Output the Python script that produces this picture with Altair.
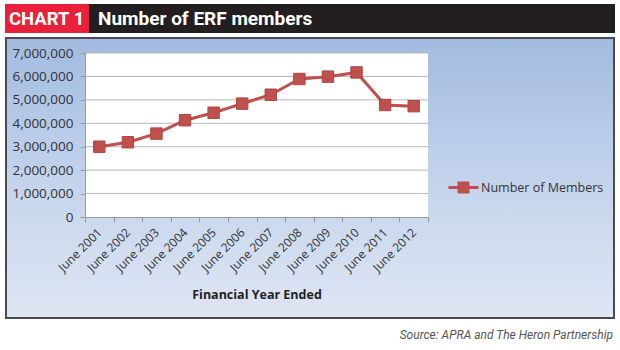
import altair as alt
import pandas as pd

years = ["June 2001", "June 2002", "June 2003", "June 2004", "June 2005", "June 2006",
         "June 2007", "June 2008", "June 2009", "June 2010", "June 2011", "June 2012"]
members = [3000000, 3190000, 3560000, 4130000, 4450000, 4840000,
           5220000, 5890000, 5990000, 6170000, 4780000, 4730000]
series_name = "Number of Members"
y_ticks = [0, 1000000, 2000000, 3000000, 4000000, 5000000, 6000000, 7000000]

df = pd.DataFrame({"year": years, "members": members, "series": series_name})
grid_df = pd.DataFrame({"v": y_ticks[1:]})

W, H = 343, 164
PL, PT = 85, 53
RED = "#c0504d"

xs = alt.X("year:N", sort=years, title="Financial Year Ended",
           scale=alt.Scale(paddingInner=0, paddingOuter=0),
           axis=alt.Axis(labelAngle=-45, labelFontSize=12, labelColor="#333333",
                         labelFont="Open Sans", titleFont="Open Sans", titleFontSize=12.5,
                         titleFontWeight="bold", titleColor="#222222", titlePadding=15,
                         domainColor="#9a9a9a", tickColor="#9a9a9a", tickSize=5,
                         tickBand="extent", labelPadding=8,
                         labelAlign="right", labelBaseline="middle", zindex=2))
y_axis = alt.Axis(values=y_ticks, labelExpr="format(datum.value, ',')",
                  labelFontSize=13.5, labelColor="#333333",
                  labelFont="Open Sans", grid=False, domainColor="#9a9a9a",
                  tickColor="#9a9a9a", tickSize=5, labelPadding=7, zindex=2, title=None)
y_scale = alt.Scale(domain=[0, 7000000], nice=False)
ys = alt.Y("members:Q", title=None, scale=y_scale, axis=y_axis)

# Decorative frame and banner (background)
frame = alt.Chart(df).mark_rect(
    fill=alt.Gradient(gradient="linear", x1=0, y1=0, x2=0, y2=1,
                      stops=[alt.GradientStop(color="#a2bbe0", offset=0),
                             alt.GradientStop(color="#c3d3ec", offset=0.5),
                             alt.GradientStop(color="#dfe6f3", offset=1)]),
    stroke="#4a4a50", strokeWidth=2
).encode(x=alt.value(6 - PL), x2=alt.value(614 - PL), y=alt.value(38 - PT), y2=alt.value(318 - PT))

plot_bg = alt.Chart(df).mark_rect(fill="white").encode(
    x=alt.value(0), x2=alt.value(W), y=alt.value(0), y2=alt.value(H))

banner_black = alt.Chart(df).mark_rect(fill="#231f20").encode(
    x=alt.value(89 - PL), x2=alt.value(615 - PL), y=alt.value(4 - PT), y2=alt.value(33 - PT))
banner_red = alt.Chart(df).mark_rect(fill="#e8203a").encode(
    x=alt.value(5 - PL), x2=alt.value(89 - PL), y=alt.value(4 - PT), y2=alt.value(33 - PT))

t1 = alt.Chart(pd.DataFrame({"t": ["CHART 1"]})).mark_text(
    font="Roboto", fontWeight="bold", fontSize=18.5, color="white", align="left", baseline="middle"
).encode(x=alt.value(9 - PL), y=alt.value(19 - PT), text="t:N")
t2 = alt.Chart(pd.DataFrame({"t": ["Number of ERF members"]})).mark_text(
    font="Roboto", fontWeight="bold", fontSize=19, color="white", align="left", baseline="middle"
).encode(x=alt.value(98 - PL), y=alt.value(19 - PT), text="t:N")
src = alt.Chart(pd.DataFrame({"t": ["Source: APRA and The Heron Partnership"]})).mark_text(
    font="Roboto", fontStyle="italic", fontSize=12, color="#555555", align="right", baseline="middle"
).encode(x=alt.value(613 - PL), y=alt.value(335 - PT), text="t:N")

grid = alt.Chart(grid_df).mark_rule(color="#b8b8b8", strokeWidth=1).encode(
    y=alt.Y("v:Q", scale=y_scale, axis=y_axis, title=None))

line = alt.Chart(df).mark_line(
    strokeWidth=3,
    point=alt.OverlayMarkDef(shape="square", size=130, filled=True, color=RED,
                             stroke="#b04340", strokeWidth=1)
).encode(
    x=alt.X("year:N", sort=years, scale=alt.Scale(type="point", padding=0.5), axis=None),
    y=ys,
    color=alt.Color("series:N", scale=alt.Scale(range=[RED]), title=None,
                    legend=alt.Legend(orient="none", legendX=447 - PL, legendY=171 - PT,
                                      symbolType="M-1,0H1M-0.3,-0.3H0.3V0.3H-0.3Z",
                                      symbolSize=900, symbolStrokeWidth=3,
                                      symbolFillColor=RED, symbolStrokeColor=RED,
                                      labelFont="Open Sans", labelFontSize=12.5,
                                      labelColor="#333333", labelOffset=1))
)

axis_x = alt.Chart(df).mark_point(opacity=0).encode(x=xs)

chart = alt.layer(frame, banner_black, banner_red, t1, t2, src, plot_bg, grid, axis_x, line).properties(
    width=W, height=H,
    autosize=alt.AutoSizeParams(type="none"),
    padding={"left": PL, "top": PT, "right": 620 - PL - W, "bottom": 350 - PT - H},
    background="white"
).configure_view(stroke=None).resolve_scale(x="independent")

chart.save("out.html", embed_options={"renderer": "svg", "actions": False})
